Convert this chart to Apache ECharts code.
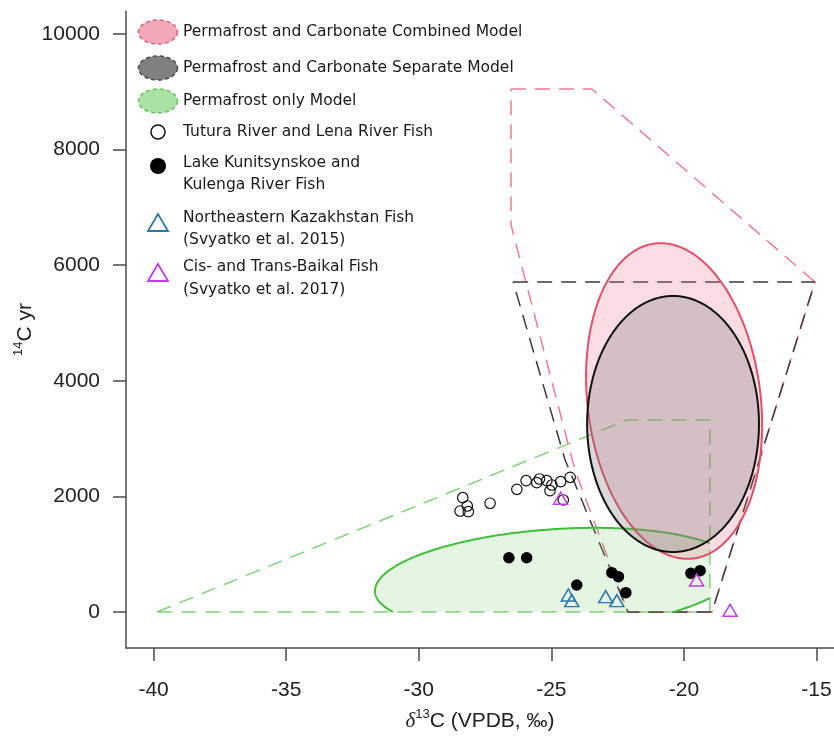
<!DOCTYPE html>
<html><head><meta charset="utf-8">
<script src="https://cdn.jsdelivr.net/npm/echarts@6/dist/echarts.min.js"></script>
<style>html,body{margin:0;padding:0;background:#fff}#c{width:834px;height:736px}</style>
</head><body><div id="c"></div>
<script>
// ---- tick values ----
const xTicks = [-40, -35, -30, -25, -20, -15];
const yTicks = [0, 2000, 4000, 6000, 8000, 10000];

// ---- fish data: [d13C, 14C yr] ----
const tuturaLena = [[-28.34,1978],[-28.44,1747],[-28.17,1834],[-28.13,1735],[-27.31,1881],[-26.30,2123],[-25.95,2272],[-25.55,2237],[-25.45,2301],[-25.17,2272],[-25.05,2099],[-24.98,2197],[-24.65,2254],[-24.29,2330],[-24.55,1938]];
const kunitsynskoe = [[-26.60,939],[-25.93,939],[-24.04,467],[-22.72,680],[-22.47,611],[-22.19,334],[-19.74,670],[-19.39,715]];
const kazakhstan = [[-24.36,294],[-24.23,196],[-22.95,265],[-22.53,196]];
const baikal = [[-24.65,1967],[-19.52,554],[-18.26,30]];

// ---- model hulls (vertices) ----
const hullCombined = [[-26.52,9048],[-23.47,9048],[-15.06,5709],[-18.94,0],[-22.11,0],[-24.11,2457],[-26.52,6696]];
const hullSeparate = [[-26.44,5709],[-15.06,5709],[-18.94,0],[-22.11,0],[-24.48,2630]];
const hullPermafrost = [[-39.87,0],[-22.15,3322],[-19.02,3322],[-19.02,0]];

// ---- model ellipses: centre x, centre y, semi-axis 1 (dx, dy), semi-axis 2 (dx, dy) ----
const ellCombined = [-20.37, 3650, 3.32, -415, 0, 2699];
const ellSeparate = [-20.41, 3253, 3.24, 0, 0, 2215];
const ellPermafrost = [-24.80, 554, 6.85, 190, 0, 882];

// ---- legend ----
const legendModels = ['Permafrost and Carbonate Combined Model','Permafrost and Carbonate Separate Model','Permafrost only Model'];
const legendFish = [['Tutura River and Lena River Fish'],['Lake Kunitsynskoe and','Kulenga River Fish'],['Northeastern Kazakhstan Fish','(Svyatko et al. 2015)'],['Cis- and Trans-Baikal Fish','(Svyatko et al. 2017)']];

function orient(poly){let a=0;for(let i=0;i<poly.length;i++){const p=poly[i],q=poly[(i+1)%poly.length];a+=p[0]*q[1]-q[0]*p[1];}return a>0?1:-1;}
function clipPoly(subject, clip){
  const sg=orient(clip); let out=subject;
  for(let i=0;i<clip.length;i++){
    const a=clip[i], b=clip[(i+1)%clip.length];
    const cr=p=>sg*((b[0]-a[0])*(p[1]-a[1])-(b[1]-a[1])*(p[0]-a[0]));
    const inp=out; out=[];
    for(let k=0;k<inp.length;k++){
      const cur=inp[k], prev=inp[(k+inp.length-1)%inp.length];
      const dc=cr(cur), dp=cr(prev);
      const inter=()=>{const t=dp/(dp-dc);return [prev[0]+(cur[0]-prev[0])*t, prev[1]+(cur[1]-prev[1])*t];};
      if(dc>=0){ if(dp<0) out.push(inter()); out.push(cur);} else if(dp>=0) out.push(inter());
    }
  }
  return out;
}
function insideHull(p, hull){const sg=orient(hull);for(let i=0;i<hull.length;i++){const a=hull[i],b=hull[(i+1)%hull.length];if(sg*((b[0]-a[0])*(p[1]-a[1])-(b[1]-a[1])*(p[0]-a[0]))<0)return false;}return true;}

function ellipseSeries(name, ell, hull, stroke, fill, z){
  return {
    type:'custom', name:name, data:[ell], z:z, silent:true, animation:false,
    renderItem:function(params, api){
      const cx=api.value(0), cy=api.value(1), ux=api.value(2), uy=api.value(3), vx=api.value(4), vy=api.value(5);
      const N=720, pts=[];
      for(let i=0;i<N;i++){const t=2*Math.PI*i/N;pts.push([cx+ux*Math.cos(t)+vx*Math.sin(t), cy+uy*Math.cos(t)+vy*Math.sin(t)]);}
      const children=[];
      if(!hull){
        children.push({type:'polygon', shape:{points:pts.map(p=>api.coord(p))}, style:{fill:fill, stroke:stroke, lineWidth:2}});
      } else {
        const cp=clipPoly(pts, hull);
        children.push({type:'polygon', shape:{points:cp.map(p=>api.coord(p))}, style:{fill:fill, stroke:null}});
        const ins=pts.map(p=>insideHull(p,hull));
        let start=ins.indexOf(false);
        if(start<0){
          children.push({type:'polygon', shape:{points:pts.map(p=>api.coord(p))}, style:{fill:null, stroke:stroke, lineWidth:2}});
        } else {
          let run=[];
          for(let k=1;k<=N;k++){
            const idx=(start+k)%N;
            if(ins[idx]) run.push(api.coord(pts[idx]));
            else { if(run.length>1) children.push({type:'polyline', shape:{points:run}, style:{fill:null, stroke:stroke, lineWidth:2}}); run=[]; }
          }
          if(run.length>1) children.push({type:'polyline', shape:{points:run}, style:{fill:null, stroke:stroke, lineWidth:2}});
        }
      }
      return {type:'group', children:children};
    }
  };
}
function hullSeries(hull, color, z){
  return {type:'line', data:hull.concat([hull[0]]), symbol:'none', z:z, silent:true, animation:false,
    lineStyle:{color:color, width:1.5, type:[15,9]}};
}

function ellPts(cx,cy,rx,ry){const a=[];for(let i=0;i<64;i++){const t=2*Math.PI*i/64;a.push([cx+rx*Math.cos(t),cy+ry*Math.sin(t)]);}return a;}
const legFont={fontFamily:'DejaVu Sans', fontSize:15.5, fill:'#1a1a1a'};
const graphics=[];
const legEllipseStyles=[['#f2a9b5','#e0607a'],['#808080','#4a4a4a'],['#a9e2a3','#66c262']];
const legEllY=[32,68,101];
legendModels.forEach((t,i)=>{
  graphics.push({type:'polygon', shape:{points:ellPts(158,legEllY[i],19.5,12)}, style:{fill:legEllipseStyles[i][0], stroke:legEllipseStyles[i][1], lineWidth:1.5, lineDash:[4,3]}});
  graphics.push({type:'text', x:183, y:legEllY[i], style:Object.assign({text:t, verticalAlign:'middle'}, legFont)});
});
graphics.push({type:'circle', shape:{cx:158, cy:132, r:7}, style:{fill:'#fff', stroke:'#111', lineWidth:1.5}});
graphics.push({type:'circle', shape:{cx:158, cy:166, r:8}, style:{fill:'#000'}});
graphics.push({type:'polygon', shape:{points:[[158,214],[148,231],[168,231]]}, style:{fill:null, stroke:'#2b77ad', lineWidth:1.8}});
graphics.push({type:'polygon', shape:{points:[[158,264],[148,281],[168,281]]}, style:{fill:null, stroke:'#c43be8', lineWidth:1.8}});
const fishTextY=[[132],[163,185],[218,240],[267,290]];
legendFish.forEach((lines,i)=>{lines.forEach((t,j)=>{graphics.push({type:'text', x:183, y:fishTextY[i][j], style:Object.assign({text:t, verticalAlign:'middle'}, legFont)});});});

const axisCol='#4a4a4a';
const lblStyle={fontSize:21, color:'#222', fontFamily:'Liberation Sans', formatter:v=>String(v)};
const chart=echarts.init(document.getElementById('c'), null, {renderer:'canvas'});
chart.setOption({
  animation:false,
  backgroundColor:'#fff',
  grid:{left:126, right:0, top:11, bottom:88, containLabel:false, outerBoundsMode:'none'},
  xAxis:{type:'value', min:-41.04, max:-14.34,
    axisLine:{show:true, onZero:false, lineStyle:{color:axisCol, width:1.5}},
    axisTick:{show:true, customValues:xTicks, length:13, lineStyle:{color:axisCol, width:1.5}},
    axisLabel:Object.assign({customValues:xTicks, margin:32}, lblStyle),
    splitLine:{show:false},
    name:'{d|δ}{s|13}{n|C (VPDB, ‰)}', nameLocation:'middle', nameGap:60, nameMoveOverlap:false,
    nameTextStyle:{fontSize:21, color:'#222', fontFamily:'Liberation Sans',
      rich:{d:{fontSize:21, fontStyle:'italic', fontFamily:'Liberation Serif', color:'#222', lineHeight:26},
            s:{fontSize:13, verticalAlign:'top', fontFamily:'Liberation Sans', color:'#222', lineHeight:26},
            n:{fontSize:21, fontFamily:'Liberation Sans', color:'#222', lineHeight:26}}}
  },
  yAxis:{type:'value', min:-623, max:10398,
    axisLine:{show:true, onZero:false, lineStyle:{color:axisCol, width:1.5}},
    axisTick:{show:true, customValues:yTicks, length:13, lineStyle:{color:axisCol, width:1.5}},
    axisLabel:Object.assign({customValues:yTicks, margin:26}, lblStyle),
    splitLine:{show:false},
    name:'{s|14}{n|C yr}', nameLocation:'middle', nameGap:88, nameMoveOverlap:false,
    nameTextStyle:{fontSize:21, color:'#222', fontFamily:'Liberation Sans',
      rich:{s:{fontSize:13, verticalAlign:'top', fontFamily:'Liberation Sans', color:'#222', lineHeight:26},
            n:{fontSize:21, fontFamily:'Liberation Sans', color:'#222', lineHeight:26}}}
  },
  graphic:graphics,
  series:[
    hullSeries(hullPermafrost, '#80d47c', 2),
    hullSeries(hullCombined, '#ec7d92', 2),
    hullSeries(hullSeparate, '#3a3a3a', 2),
    ellipseSeries('Permafrost only Model', ellPermafrost, hullPermafrost, '#3fbf3a', 'rgba(120,210,110,0.2)', 3),
    ellipseSeries('Permafrost and Carbonate Combined Model', ellCombined, null, '#e0506a', 'rgba(232,120,140,0.25)', 3),
    ellipseSeries('Permafrost and Carbonate Separate Model', ellSeparate, null, '#111', 'rgba(120,120,120,0.28)', 4),
    {type:'scatter', name:'Tutura River and Lena River Fish', data:tuturaLena, symbol:'circle', symbolSize:10.5, z:6,
      itemStyle:{color:'rgba(0,0,0,0)', borderColor:'#111', borderWidth:1.2, opacity:1}},
    {type:'scatter', name:'Lake Kunitsynskoe and Kulenga River Fish', data:kunitsynskoe, symbol:'circle', symbolSize:11.5, z:6,
      itemStyle:{color:'#000', opacity:1}},
    {type:'scatter', name:'Northeastern Kazakhstan Fish', data:kazakhstan, symbol:'triangle', symbolSize:[14,12], z:6,
      itemStyle:{color:'rgba(0,0,0,0)', borderColor:'#2b77ad', borderWidth:1.5, opacity:1}},
    {type:'scatter', name:'Cis- and Trans-Baikal Fish', data:baikal, symbol:'triangle', symbolSize:[14,12], z:6,
      itemStyle:{color:'rgba(0,0,0,0)', borderColor:'#c43be8', borderWidth:1.5, opacity:1}}
  ]
});
</script></body></html>
